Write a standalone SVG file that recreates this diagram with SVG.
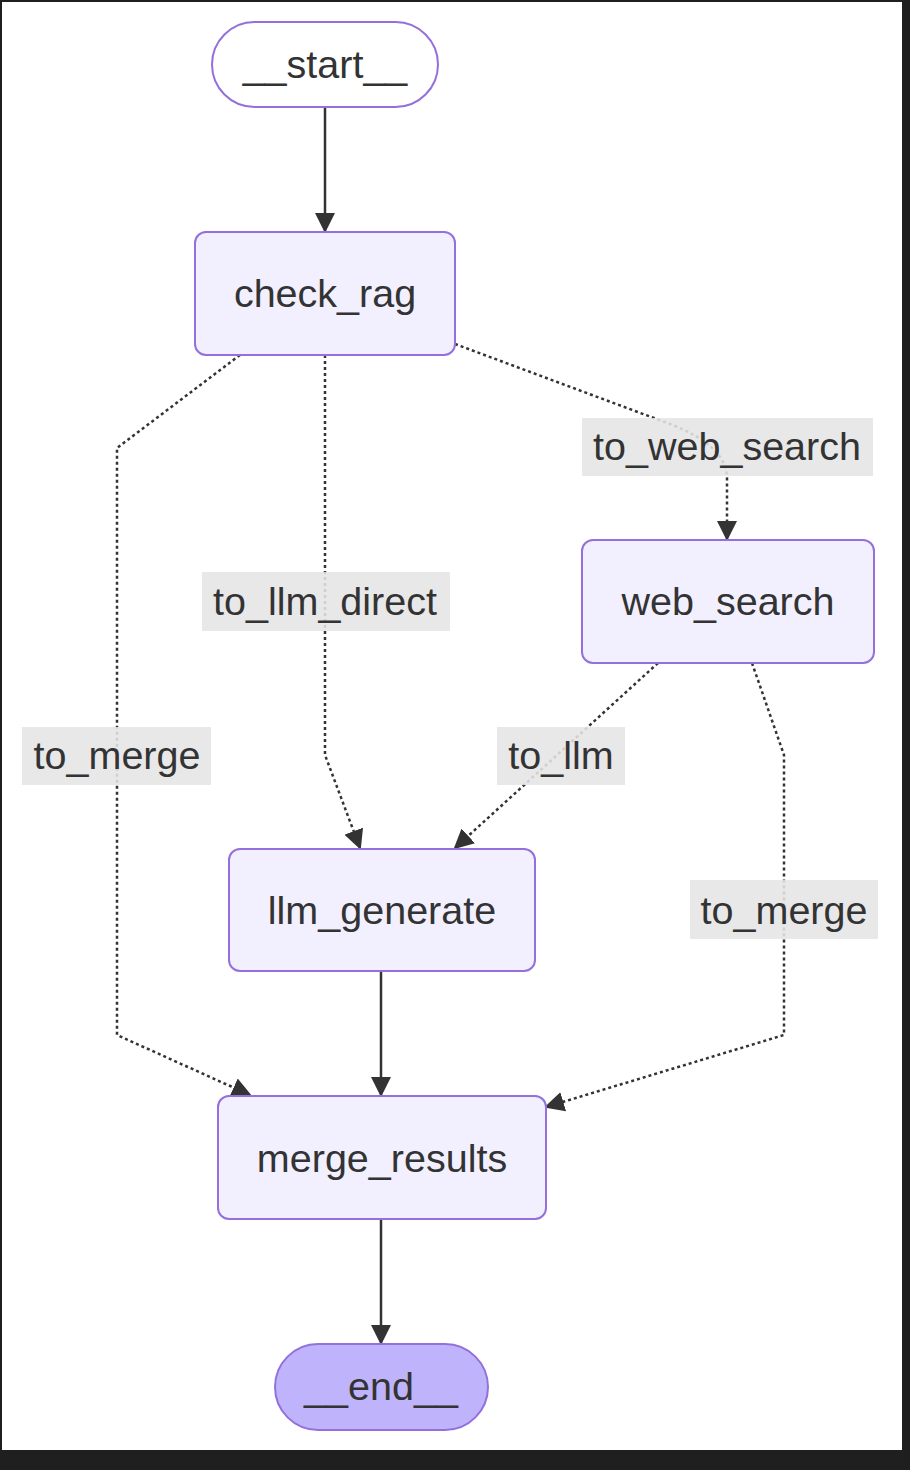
<svg xmlns="http://www.w3.org/2000/svg" width="910" height="1470" viewBox="0 0 910 1470">
<defs>
<style>
.node rect{fill:#f2f0ff;stroke:#9370db;stroke-width:2}
.t{font-family:"Liberation Sans",Arial,sans-serif;font-size:39.5px;fill:#333;text-anchor:middle;dominant-baseline:central}
.lbl rect{fill:#e5e5e5;fill-opacity:0.88}
.e{fill:none;stroke:#333;stroke-width:2.5}
.d{fill:none;stroke:#333;stroke-width:2.5;stroke-dasharray:3 3}
</style>
<marker id="a" viewBox="0 0 20 20" refX="18" refY="10" markerWidth="20" markerHeight="20" markerUnits="userSpaceOnUse" orient="auto">
<path d="M0,0 L20,10 L0,20 z" fill="#333"/>
</marker>
</defs>
<rect x="0" y="0" width="910" height="1470" fill="#1f1f1f"/>
<rect x="2" y="2" width="900" height="1448" fill="#ffffff"/>
<g id="connectors">
<path class="e" d="M325,107 L325,231" marker-end="url(#a)"/>
<path class="d" d="M455,344 L670,424 Q727,446 727,478 L727,539" marker-end="url(#a)"/>
<path class="d" d="M325,355 L325,755 L360,848" marker-end="url(#a)"/>
<path class="d" d="M240,355 L117,448 L117,1035 L250,1095" marker-end="url(#a)"/>
<path class="d" d="M658,663 L455,848" marker-end="url(#a)"/>
<path class="d" d="M752,663 L784,755 L784,1035 L546,1107" marker-end="url(#a)"/>
<path class="e" d="M381,971 L381,1095" marker-end="url(#a)"/>
<path class="e" d="M381,1219 L381,1343" marker-end="url(#a)"/>
</g>
<g id="labels">
<g class="lbl" id="lbl-to_web_search"><rect x="582" y="418" width="291" height="58"/><text class="t" x="727" y="446">to_web_search</text></g>
<g class="lbl" id="lbl-to_llm_direct"><rect x="202" y="572" width="248" height="59"/><text class="t" x="325" y="601">to_llm_direct</text></g>
<g class="lbl" id="lbl-to_merge_left"><rect x="22" y="727" width="189" height="58"/><text class="t" x="117" y="755">to_merge</text></g>
<g class="lbl" id="lbl-to_llm"><rect x="497" y="727" width="128" height="58"/><text class="t" x="561" y="755">to_llm</text></g>
<g class="lbl" id="lbl-to_merge_right"><rect x="690" y="880" width="188" height="59"/><text class="t" x="784" y="910">to_merge</text></g>
</g>
<g id="start" class="node"><rect x="212" y="22" width="226" height="85" rx="42.5" style="fill:#fff"/><text class="t" x="325" y="64">__start__</text></g>
<g id="check_rag" class="node"><rect x="195" y="232" width="260" height="123" rx="11"/><text class="t" x="325" y="293">check_rag</text></g>
<g id="web_search" class="node"><rect x="582" y="540" width="292" height="123" rx="11"/><text class="t" x="728" y="601">web_search</text></g>
<g id="llm_generate" class="node"><rect x="229" y="849" width="306" height="122" rx="11"/><text class="t" x="382" y="910">llm_generate</text></g>
<g id="merge_results" class="node"><rect x="218" y="1096" width="328" height="123" rx="11"/><text class="t" x="382" y="1158">merge_results</text></g>
<g id="end" class="node"><rect x="275" y="1344" width="213" height="86" rx="43" style="fill:#bfb4fb"/><text class="t" x="381" y="1386">__end__</text></g>
</svg>
